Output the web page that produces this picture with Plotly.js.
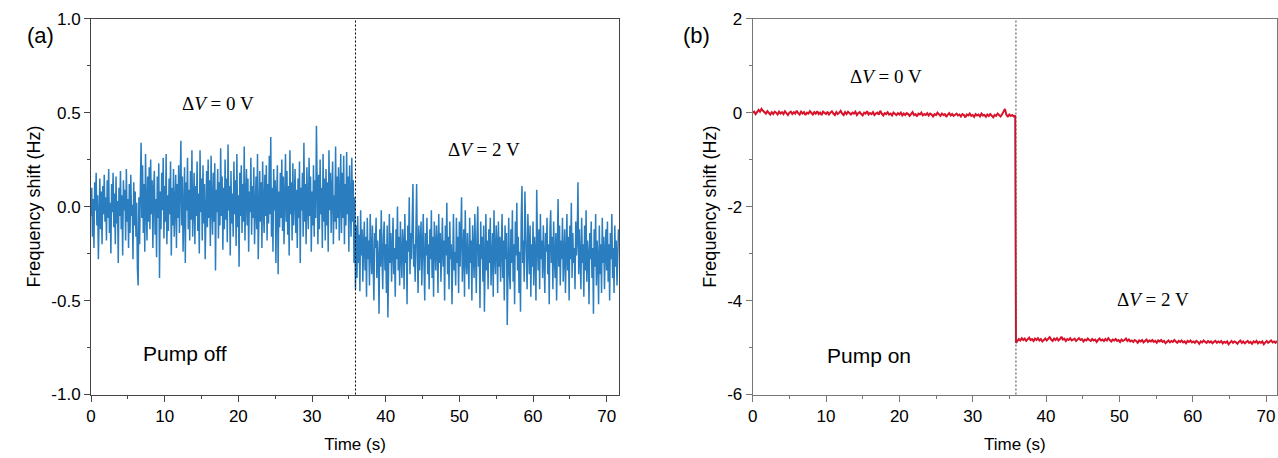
<!DOCTYPE html>
<html><head><meta charset="utf-8">
<script src="https://cdn.plot.ly/plotly-3.0.1.min.js"></script>
<style>html,body{margin:0;padding:0;background:#fff}</style>
</head><body><div id="chart" style="width:1278px;height:458px"></div>
<script>
// ---- Panel (a): Pump off, sampled every 0.1 s ----
const aBeforeStart = 0.0, aBeforeStep = 0.1;   // ΔV = 0 V segment
const aBeforeValues = [
 -0.05, 0.10, -0.16, 0.04, -0.22, 0.13, -0.02, 0.18, -0.10, 0.06, -0.28, 0.00, 0.15, -0.12, 0.08, -0.20, 0.11, -0.04, 0.17, -0.08,
 0.05, -0.18, 0.14, -0.06, 0.20, -0.14, 0.02, -0.25, 0.12, -0.03, 0.18, -0.11, 0.07, -0.20, 0.16, -0.09, 0.03, -0.30, 0.10, -0.05,
 0.19, -0.12, 0.06, -0.26, 0.14, -0.02, 0.09, -0.18, 0.20, -0.08, 0.04, -0.22, 0.12, -0.14, 0.17, -0.05, 0.01, -0.28, 0.13, -0.10,
 0.08, -0.16, 0.02, -0.33, -0.42, 0.05, -0.20, 0.10, 0.34, -0.06, 0.22, -0.14, 0.12, -0.24, 0.28, 0.00, -0.18, 0.16, -0.08, 0.21,
 -0.12, 0.25, -0.04, 0.14, -0.22, 0.09, 0.19, -0.15, 0.04, -0.27, 0.16, -0.06, 0.23, -0.38, 0.08, -0.12, 0.18, -0.02, 0.26, -0.17,
 0.11, -0.08, 0.28, -0.20, 0.06, -0.13, 0.15, -0.04, 0.24, -0.26, 0.10, -0.10, 0.20, -0.16, 0.03, 0.17, -0.22, 0.12, -0.06, 0.22,
 -0.14, 0.08, 0.35, -0.10, 0.16, -0.24, 0.05, 0.21, -0.30, 0.13, -0.02, 0.26, -0.12, 0.09, -0.18, 0.19, -0.07, 0.30, -0.16, 0.04,
 0.18, -0.20, 0.11, -0.05, 0.24, -0.13, 0.07, -0.25, 0.30, -0.03, 0.15, -0.18, 0.22, -0.09, 0.12, -0.28, 0.06, 0.19, -0.11, 0.25,
 -0.06, 0.14, -0.21, 0.27, 0.01, -0.15, 0.18, -0.08, 0.23, -0.34, 0.09, -0.03, 0.20, -0.17, 0.13, -0.10, 0.31, -0.05, 0.16, -0.23,
 0.10, -0.12, 0.25, -0.07, 0.15, -0.19, 0.33, -0.02, 0.11, -0.26, 0.19, -0.09, 0.07, -0.16, 0.24, -0.04, 0.14, -0.21, 0.28, -0.11,
 0.06, -0.32, 0.18, -0.05, 0.22, -0.14, 0.12, -0.08, 0.32, -0.18, 0.04, 0.20, -0.10, 0.15, -0.24, 0.08, -0.03, 0.26, -0.15, 0.11,
 -0.06, 0.21, -0.20, 0.09, 0.16, -0.12, 0.28, -0.28, 0.05, 0.19, -0.08, 0.13, -0.22, 0.24, 0.00, -0.14, 0.17, -0.05, 0.22, -0.18,
 0.12, -0.09, 0.27, -0.04, 0.37, -0.16, 0.10, -0.24, 0.20, -0.02, 0.14, -0.30, 0.06, 0.22, -0.36, 0.08, -0.11, 0.18, -0.06, 0.25,
 -0.13, 0.16, -0.20, 0.07, 0.28, -0.08, 0.19, -0.15, 0.11, -0.26, 0.30, -0.04, 0.13, -0.18, 0.23, -0.10, 0.05, 0.20, -0.14, 0.09,
 -0.22, 0.15, -0.06, 0.24, -0.30, 0.10, -0.02, 0.18, -0.16, 0.34, -0.08, 0.12, -0.20, 0.21, 0.00, -0.12, 0.26, -0.05, 0.16, -0.24,
 0.08, -0.10, 0.22, -0.16, 0.14, -0.06, 0.43, 0.02, -0.20, 0.17, -0.12, 0.25, -0.04, 0.10, -0.22, 0.28, -0.08, 0.15, -0.18, 0.20,
 -0.10, 0.13, -0.24, 0.30, -0.02, 0.18, -0.14, 0.09, 0.24, -0.20, 0.06, -0.08, 0.32, -0.12, 0.16, -0.06, 0.21, -0.18, 0.11, 0.28,
 -0.14, 0.18, -0.06, 0.27, -0.20, 0.12, -0.10, 0.29, -0.04, 0.16, -0.24, 0.22, 0.02, -0.16, 0.26, -0.08, 0.14, -0.30, 0.05, -0.44
];
const aAfterStart = 36.0, aAfterStep = 0.1;    // ΔV = 2 V segment
const aAfterValues = [
 -0.10, -0.38, -0.05, -0.30, -0.15, -0.45, -0.02, -0.26, -0.12, -0.40, -0.20, -0.08, -0.34, -0.16, -0.48, -0.06, -0.28, -0.18, -0.42, -0.04,
 -0.24, -0.36, -0.10, -0.30, -0.50, -0.14, -0.22, -0.06, -0.38, -0.18, -0.28, -0.57, -0.12, -0.32, -0.02, -0.26, -0.44, -0.16, -0.08, -0.34,
 -0.20, -0.46, -0.10, -0.59, -0.24, -0.04, -0.30, -0.14, -0.40, -0.18, -0.06, -0.36, -0.22, -0.48, -0.12, -0.28, 0.00, -0.34, -0.16, -0.42,
 -0.08, -0.26, -0.38, -0.12, -0.20, -0.44, -0.04, -0.30, -0.18, -0.52, -0.10, -0.24, 0.05, -0.36, -0.14, -0.28, -0.06, 0.12, -0.32, -0.20,
 -0.40, -0.02, 0.12, -0.26, -0.46, -0.10, -0.34, -0.18, -0.08, -0.42, -0.22, -0.04, -0.30, -0.50, -0.14, -0.26, -0.06, -0.36, -0.20, -0.44,
 -0.12, -0.28, -0.02, -0.38, -0.16, -0.48, -0.08, -0.24, -0.34, -0.10, -0.20, -0.46, -0.04, -0.30, -0.14, -0.40, -0.22, -0.06, -0.32, -0.18,
 -0.50, -0.10, -0.26, 0.02, -0.36, -0.16, -0.44, -0.08, -0.28, -0.20, -0.52, -0.12, -0.04, -0.34, -0.24, -0.42, -0.06, -0.30, -0.16, -0.46,
 -0.08, -0.32, -0.18, 0.05, -0.40, -0.22, -0.12, -0.48, -0.02, -0.28, -0.36, -0.14, -0.24, -0.44, -0.06, -0.30, -0.18, -0.50, -0.10, -0.26,
 -0.38, -0.04, -0.22, -0.46, -0.14, 0.00, -0.32, -0.20, -0.54, -0.08, -0.28, -0.16, -0.40, -0.10, -0.56, -0.24, -0.04, -0.34, -0.18, -0.44,
 -0.12, -0.30, -0.06, -0.42, -0.22, -0.14, -0.48, -0.02, -0.26, -0.36, -0.10, -0.20, -0.46, -0.08, -0.32, -0.16, -0.40, -0.24, -0.04, -0.38,
 -0.18, -0.50, -0.10, -0.28, -0.14, -0.63, -0.22, -0.06, -0.36, -0.44, -0.12, -0.30, -0.02, -0.40, -0.20, -0.52, -0.08, -0.26, 0.02, -0.34,
 -0.16, -0.46, -0.24, -0.56, -0.06, 0.11, -0.30, -0.18, -0.40, 0.08, -0.12, -0.28, -0.44, -0.04, -0.22, -0.36, -0.10, -0.48, -0.20, -0.32,
 -0.08, -0.42, -0.16, -0.26, -0.50, 0.09, -0.20, -0.34, -0.12, -0.44, -0.04, -0.28, -0.18, -0.38, -0.10, -0.30, -0.46, -0.14, -0.24, -0.06,
 -0.36, -0.20, -0.52, -0.12, -0.02, -0.30, -0.16, -0.44, -0.08, -0.26, -0.38, -0.14, -0.50, -0.22, 0.04, -0.32, -0.10, -0.42, -0.18, -0.28,
 -0.06, -0.40, -0.20, -0.12, -0.46, -0.24, -0.04, -0.34, -0.16, -0.50, -0.10, -0.28, 0.02, -0.38, -0.14, -0.30, -0.22, -0.44, -0.08, -0.26,
 -0.16, 0.13, -0.36, -0.12, -0.24, -0.44, -0.06, -0.30, -0.20, -0.48, -0.10, -0.34, -0.02, -0.40, -0.18, -0.26, -0.52, -0.14, -0.28, -0.08,
 -0.38, -0.22, -0.57, -0.12, -0.32, -0.04, -0.42, -0.18, -0.28, -0.52, -0.10, -0.36, -0.20, -0.46, -0.06, -0.30, -0.16, -0.44, -0.24, -0.12,
 -0.34, -0.08, -0.40, -0.20, -0.50, -0.14, -0.28, -0.04, -0.38, -0.22, -0.46, -0.10, -0.32, -0.18, -0.42, -0.26, -0.12
];

// ---- Panel (b): Pump on, sampled every 0.2 s ----
const bBeforeStart = 0.0, bBeforeStep = 0.2;
const bBeforeValues = [
 0.00, 0.02, -0.03, 0.03, 0.06, 0.02, 0.08, 0.04, 0.01, -0.02, 0.03, -0.01, -0.04, 0.01, -0.03, 0.02, 0.00, -0.04, 0.02, -0.02,
 0.01, -0.03, 0.03, -0.01, -0.05, 0.00, 0.02, -0.03, 0.01, -0.02, 0.04, -0.01, -0.04, 0.02, -0.02, 0.01, -0.05, 0.00, -0.02, 0.03,
 -0.01, -0.04, 0.01, -0.02, 0.03, -0.03, 0.00, -0.05, 0.02, -0.01, -0.03, 0.02, -0.04, 0.00, 0.03, -0.02, -0.05, 0.01, -0.03, 0.00,
 0.04, -0.02, -0.05, 0.01, -0.03, 0.02, -0.01, -0.04, 0.00, -0.02, 0.02, -0.05, -0.01, 0.01, -0.03, -0.06, 0.00, -0.02, 0.03, -0.04,
 -0.01, -0.03, 0.01, -0.05, -0.02, 0.00, -0.04, 0.04, -0.02, -0.06, -0.01, -0.03, 0.01, -0.04, -0.02, -0.06, 0.00, -0.03, -0.05, -0.01,
 -0.04, 0.00, -0.06, -0.02, -0.05, -0.01, -0.03, -0.07, -0.02, 0.01, -0.05, -0.03, -0.08, -0.02, -0.04, 0.00, -0.06, -0.03, -0.05, -0.01,
 -0.06, -0.02, -0.04, -0.08, -0.03, -0.05, 0.00, -0.04, -0.07, -0.02, -0.05, -0.03, -0.09, -0.04, -0.01, -0.06, -0.03, -0.07, -0.05, -0.02,
 -0.06, -0.04, -0.08, -0.03, -0.05, -0.10, -0.04, -0.06, -0.02, -0.07, -0.05, -0.09, -0.03, -0.06, -0.04, -0.08, -0.02, -0.06, -0.05, -0.09,
 -0.04, -0.07, -0.03, -0.06, -0.10, -0.05, -0.07, -0.02, -0.06, -0.08, -0.04, 0.02, 0.08, -0.05, -0.08, -0.04, -0.07, -0.05, -0.08, -0.06
];
const bAfterStart = 35.9, bAfterStep = 0.2;
const bAfterValues = [
 -4.90, -4.86, -4.82, -4.85, -4.80, -4.84, -4.81, -4.86, -4.83, -4.79, -4.84, -4.82, -4.86, -4.81, -4.84, -4.80, -4.85, -4.82, -4.87, -4.83,
 -4.81, -4.85, -4.82, -4.78, -4.83, -4.86, -4.81, -4.84, -4.80, -4.85, -4.82, -4.77, -4.83, -4.81, -4.86, -4.82, -4.84, -4.80, -4.85, -4.83,
 -4.81, -4.86, -4.83, -4.80, -4.84, -4.82, -4.87, -4.83, -4.85, -4.81, -4.84, -4.86, -4.82, -4.85, -4.83, -4.88, -4.84, -4.81, -4.85, -4.83,
 -4.86, -4.82, -4.85, -4.80, -4.84, -4.87, -4.83, -4.85, -4.82, -4.86, -4.84, -4.88, -4.83, -4.86, -4.84, -4.81, -4.86, -4.83, -4.87, -4.85,
 -4.88, -4.84, -4.86, -4.90, -4.85, -4.87, -4.84, -4.89, -4.86, -4.83, -4.88, -4.85, -4.87, -4.84, -4.88, -4.86, -4.90, -4.85, -4.87, -4.84,
 -4.88, -4.86, -4.91, -4.87, -4.85, -4.89, -4.86, -4.88, -4.84, -4.87, -4.90, -4.86, -4.88, -4.85, -4.89, -4.87, -4.91, -4.86, -4.88, -4.85,
 -4.89, -4.87, -4.90, -4.86, -4.88, -4.92, -4.87, -4.89, -4.85, -4.88, -4.90, -4.86, -4.89, -4.87, -4.91, -4.88, -4.86, -4.90, -4.87, -4.89,
 -4.86, -4.91, -4.88, -4.90, -4.87, -4.93, -4.88, -4.86, -4.90, -4.87, -4.89, -4.92, -4.88, -4.85, -4.90, -4.87, -4.91, -4.88, -4.86, -4.90,
 -4.88, -4.92, -4.87, -4.89, -4.86, -4.91, -4.88, -4.90, -4.87, -4.93, -4.89, -4.86, -4.90, -4.88, -4.85, -4.89, -4.87, -4.90, -4.86
];

const switchTime = 35.9;
const aTickVals = [-1, -0.5, 0, 0.5, 1];
const aTickText = ['-1.0', '-0.5', '0.0', '0.5', '1.0'];
const bTickVals = [-6, -4, -2, 0, 2];
const bTickText = ['-6', '-4', '-2', '0', '2'];
const xTickVals = [0, 10, 20, 30, 40, 50, 60, 70];
const xTickText = ['0', '10', '20', '30', '40', '50', '60', '70'];

function times(start, step, vals) { return vals.map((_, i) => +(start + i * step).toFixed(3)); }

const aX = times(aBeforeStart, aBeforeStep, aBeforeValues).concat(times(aAfterStart, aAfterStep, aAfterValues));
const aY = aBeforeValues.concat(aAfterValues);
const bX = times(bBeforeStart, bBeforeStep, bBeforeValues).concat(times(bAfterStart, bAfterStep, bAfterValues));
const bY = bBeforeValues.concat(bAfterValues);

const sans = 'Liberation Sans, Arial, sans-serif';
const serif = 'Liberation Serif, Times New Roman, serif';

const traces = [
  {x: aX, y: aY, xaxis: 'x', yaxis: 'y', mode: 'lines', line: {color: '#2a7dbe', width: 1.5}, hoverinfo: 'skip'},
  {x: bX, y: bY, xaxis: 'x2', yaxis: 'y2', mode: 'lines', line: {color: '#d8132b', width: 2}, hoverinfo: 'skip'}
];

function xAxis(domain, range, anchor, col) {
  return {domain: domain, range: range, anchor: anchor, showgrid: false, zeroline: false,
    showline: true, mirror: true, linecolor: col, linewidth: 1,
    ticks: 'outside', ticklen: 6, tickcolor: col, tickmode: 'array', tickvals: xTickVals, ticktext: xTickText,
    minor: {tickmode: 'array', tickvals: [5, 15, 25, 35, 45, 55, 65], ticks: 'outside', ticklen: 3, tickcolor: col},
    tickfont: {family: sans, size: 17, color: '#000'},
    title: {text: 'Time (s)', font: {family: sans, size: 17, color: '#000'}, standoff: 13}};
}
function yAxis(domain, range, anchor, tv, tt, minorVals, col) {
  return {domain: domain, range: range, anchor: anchor, showgrid: false, zeroline: false,
    showline: true, mirror: true, linecolor: col, linewidth: 1,
    ticks: 'outside', ticklen: 6, tickcolor: col, tickmode: 'array', tickvals: tv, ticktext: tt,
    minor: {tickmode: 'array', tickvals: minorVals, ticks: 'outside', ticklen: 3, tickcolor: col},
    tickfont: {family: sans, size: 17, color: '#000'},
    title: {text: 'Frequency shift (Hz)', font: {family: sans, size: 18, color: '#000'}, standoff: 5}};
}

const yDom = [1 - 394.5 / 458, 1 - 18.7 / 458];
const layout = {
  width: 1278, height: 458, margin: {l: 0, r: 0, t: 0, b: 0},
  paper_bgcolor: '#fff', plot_bgcolor: '#fff', showlegend: false,
  xaxis: xAxis([91 / 1278, 619 / 1278], [0, 71.67], 'y', '#444'),
  yaxis: yAxis(yDom, [-1, 1], 'x', aTickVals, aTickText, [-0.75, -0.25, 0.25, 0.75], '#444'),
  xaxis2: xAxis([752.7 / 1278, 1277 / 1278], [0, 71.5], 'y2', '#777'),
  yaxis2: yAxis(yDom, [-6, 2], 'x2', bTickVals, bTickText, [-5, -3, -1, 1], '#777'),
  shapes: [
    {type: 'line', xref: 'x', yref: 'y domain', x0: switchTime, x1: switchTime, y0: 0, y1: 1, line: {color: '#000', width: 1, dash: '2px,2px'}},
    {type: 'line', xref: 'x2', yref: 'y2 domain', x0: switchTime, x1: switchTime, y0: 0, y1: 1, line: {color: '#444', width: 1, dash: '2px,2px'}}
  ],
  annotations: [
    {xref: 'paper', yref: 'paper', x: 25 / 1278, y: 1 - 21 / 458, text: '(a)', showarrow: false, font: {family: sans, size: 22, color: '#000'}},
    {xref: 'paper', yref: 'paper', x: 696 / 1278, y: 1 - 21 / 458, text: '(b)', showarrow: false, font: {family: sans, size: 22, color: '#000'}},
    {xref: 'x', yref: 'y', x: 17.3, y: 0.55, text: 'Δ<i>V</i> = 0 V', showarrow: false, font: {family: serif, size: 19, color: '#000'}},
    {xref: 'x', yref: 'y', x: 53.4, y: 0.306, text: 'Δ<i>V</i> = 2 V', showarrow: false, font: {family: serif, size: 19, color: '#000'}},
    {xref: 'x', yref: 'y', x: 12.7, y: -0.78, text: 'Pump off', showarrow: false, font: {family: sans, size: 21, color: '#000'}},
    {xref: 'x2', yref: 'y2', x: 18.2, y: 0.78, text: 'Δ<i>V</i> = 0 V', showarrow: false, font: {family: serif, size: 19, color: '#000'}},
    {xref: 'x2', yref: 'y2', x: 54.6, y: -3.98, text: 'Δ<i>V</i> = 2 V', showarrow: false, font: {family: serif, size: 19, color: '#000'}},
    {xref: 'x2', yref: 'y2', x: 15.8, y: -5.16, text: 'Pump on', showarrow: false, font: {family: sans, size: 21, color: '#000'}}
  ]
};

Plotly.newPlot('chart', traces, layout, {staticPlot: true, displayModeBar: false});
</script>
</body></html>
